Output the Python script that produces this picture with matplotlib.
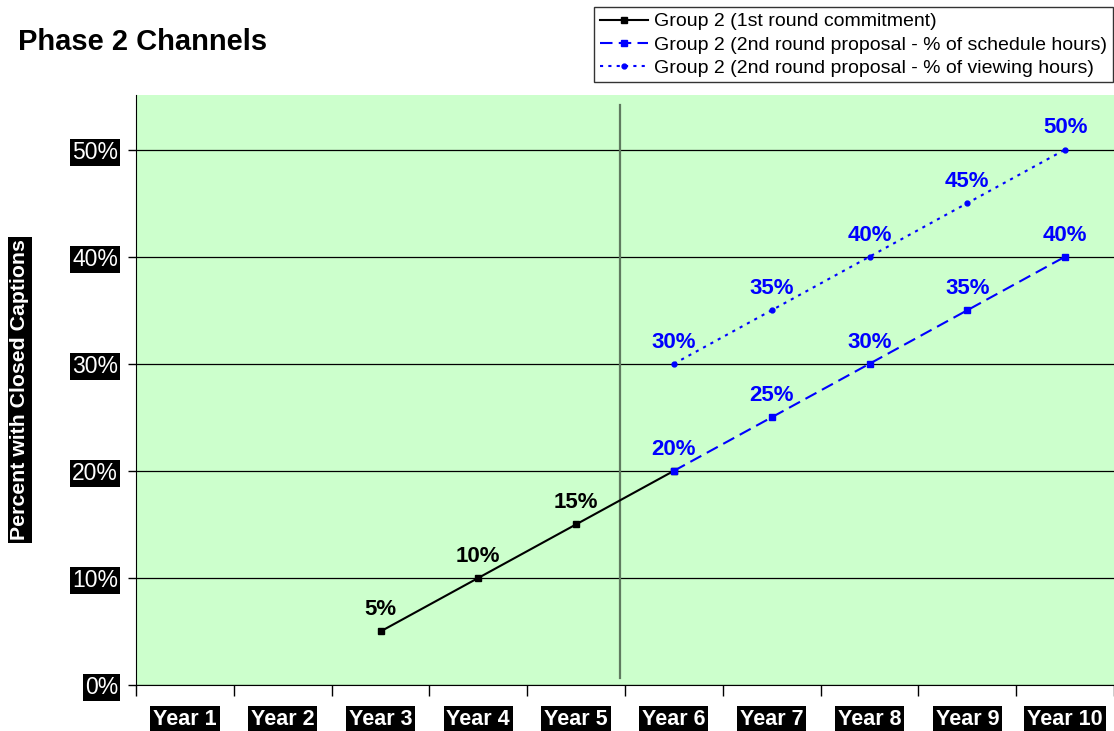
"""
Phase 2 Channels - 字幕比例折线图
"""

import numpy as np
import matplotlib.pyplot as plt
import matplotlib

matplotlib.rcParams.update({
    'font.family': ['Liberation Sans', 'DejaVu Sans'],
    'font.size': 12,
})

# 数据
years = ['Year 1', 'Year 2', 'Year 3', 'Year 4', 'Year 5',
         'Year 6', 'Year 7', 'Year 8', 'Year 9', 'Year 10']
y_ticks = [0, 10, 20, 30, 40, 50]

s1_years = ['Year 3', 'Year 4', 'Year 5', 'Year 6']
s1_vals = [5, 10, 15, 20]
s1_labeled = ['Year 3', 'Year 4', 'Year 5']

s2_years = ['Year 6', 'Year 7', 'Year 8', 'Year 9', 'Year 10']
s2_vals = [20, 25, 30, 35, 40]

s3_years = ['Year 6', 'Year 7', 'Year 8', 'Year 9', 'Year 10']
s3_vals = [30, 35, 40, 45, 50]

names = ['Group 2 (1st round commitment)',
         'Group 2 (2nd round proposal - % of schedule hours)',
         'Group 2 (2nd round proposal - % of viewing hours)']

BLUE = '#0000FF'
idx = {y: i for i, y in enumerate(years)}

fig = plt.figure(figsize=(11.14, 7.31), dpi=100)
ax = fig.add_axes([136 / 1114, 1 - 685 / 731, 1 - 136 / 1114, 590 / 731])
ax.set_facecolor('#CCFFCC')

x1 = [idx[y] for y in s1_years]
x2 = [idx[y] for y in s2_years]
x3 = [idx[y] for y in s3_years]

l1, = ax.plot(x1, s1_vals, color='black', lw=1.5, marker='s', ms=5, zorder=4)
l2, = ax.plot(x2, s2_vals, color=BLUE, lw=1.5, ls=(0, (6, 3)),
              marker='s', ms=5, zorder=4)
l3, = ax.plot(x3, s3_vals, color=BLUE, lw=1.5, ls=(0, (1.5, 2.5)),
              marker='o', ms=3.5, zorder=4)

lbl_kw = dict(textcoords='offset points', xytext=(0, 8), ha='center',
              va='bottom', fontsize=16, fontweight='bold', zorder=5)
for y, v in zip(s1_years, s1_vals):
    if y in s1_labeled:
        ax.annotate(f'{v}%', (idx[y], v), color='black', **lbl_kw)
for xs, vs in ((x2, s2_vals), (x3, s3_vals)):
    for x, v in zip(xs, vs):
        ax.annotate(f'{v}%', (x, v), color=BLUE, **lbl_kw)

# 竖向分隔线
ax.plot([4.45, 4.45], [0.65, 54.2], color='#5F7A5F', lw=1.6, zorder=2)

ax.set_xlim(-0.5, 9.5)
ax.set_ylim(0, 55.1)
ax.set_yticks(y_ticks)
ax.set_yticklabels([f'{t}%' for t in y_ticks], color='white', fontsize=16.5)
for t in ax.get_yticklabels():
    t.set_bbox(dict(facecolor='black', edgecolor='none', pad=1.5))
ax.tick_params(axis='y', length=6, width=1, pad=7)
ax.grid(axis='y', color='black', lw=0.9, zorder=1)
ax.set_axisbelow(True)

ax.set_xticks(np.arange(-0.5, 10, 1))
ax.set_xticklabels([])
ax.set_xticks(np.arange(len(years)), minor=True)
ax.set_xticklabels(years, minor=True, color='white', fontsize=15.5,
                   fontweight='bold')
for t in ax.get_xticklabels(minor=True):
    t.set_bbox(dict(facecolor='black', edgecolor='none', pad=2))
ax.tick_params(axis='x', which='major', length=8, width=1)
ax.tick_params(axis='x', which='minor', length=0, pad=17)

for s in ('top', 'right'):
    ax.spines[s].set_visible(False)

fig.text(18 / 1114, 1 - 42 / 731, 'Phase 2 Channels', fontsize=21,
         fontweight='bold', va='center', ha='left')
fig.text(20 / 1114, 1 - 390 / 731, 'Percent with Closed Captions',
         rotation=90, ha='center', va='center', fontsize=15.3,
         fontweight='bold', color='white',
         bbox=dict(facecolor='black', edgecolor='none', pad=1.5))

leg = fig.legend([l1, l2, l3], names, loc='upper right',
                 bbox_to_anchor=(1113 / 1114, 1 - 7 / 731), fontsize=14,
                 frameon=True, fancybox=False, edgecolor='black',
                 handlelength=2.5, handletextpad=0.3, labelspacing=0.28,
                 borderpad=0.3, borderaxespad=0)
leg.get_frame().set_linewidth(1)

fig.savefig('out.png', dpi=100)
